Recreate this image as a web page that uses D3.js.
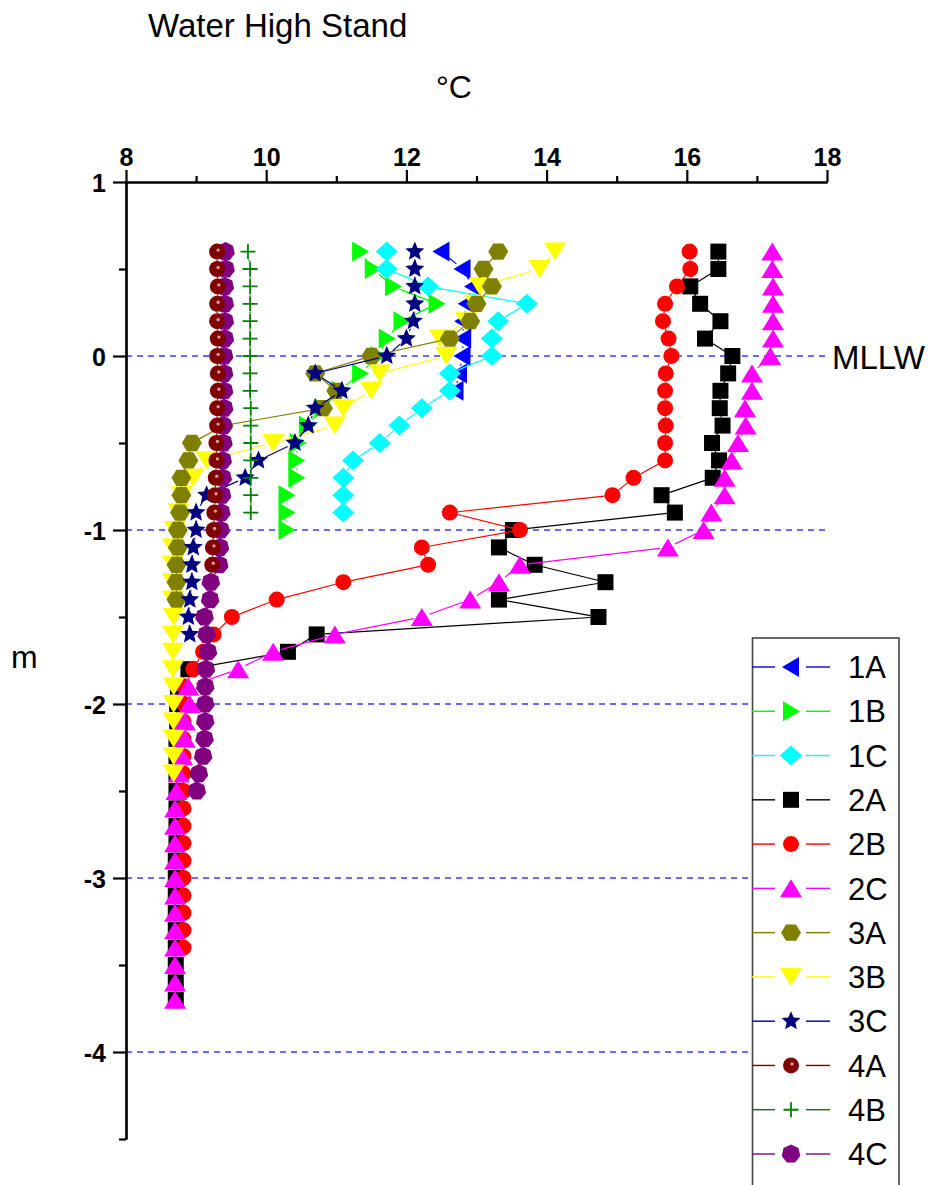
<!DOCTYPE html>
<html>
<head>
<meta charset="utf-8">
<script src="https://cdn.jsdelivr.net/npm/d3@7"></script>
<style>
  body { margin: 0; background: #fff; }
  svg { display: block; font-family: "Liberation Sans", Arial, sans-serif; }
</style>
</head>
<body>
<div id="chart"></div>
<script>
// depth (m) of each sample, top to bottom
const depths = [0.6, 0.5, 0.4, 0.3, 0.2, 0.1, 0, -0.1, -0.2, -0.3, -0.4, -0.5, -0.6, -0.7, -0.8, -0.9,
  -1, -1.1, -1.2, -1.3, -1.4, -1.5, -1.6, -1.7, -1.8, -1.9, -2, -2.1, -2.2, -2.3, -2.4, -2.5,
  -2.6, -2.7, -2.8, -2.9, -3, -3.1, -3.2, -3.3, -3.4, -3.5, -3.6, -3.7];

// temperatures (°C), one per depth starting at 0.6 m
const t1A = [12.5, 12.8, 12.95, 12.86, 12.81, 12.81, 12.8, 12.75, 12.7];
const t1B = [11.34, 11.52, 11.81, 12.43, 11.93, 11.72, 11.6, 11.34, 11.05, 10.8, 10.58, 10.45, 10.43, 10.43, 10.29, 10.29, 10.29];
const t1C = [11.72, 11.72, 12.31, 13.72, 13.31, 13.22, 13.22, 12.62, 12.62, 12.22, 11.9, 11.62, 11.24, 11.1, 11.1, 11.1];
const t2A = [16.45, 16.45, 16.05, 16.19, 16.48, 16.26, 16.65, 16.59, 16.48, 16.47, 16.51, 16.36, 16.46, 16.37, 15.64, 15.83,
  13.52, 13.32, 13.83, 14.84, 13.32, 14.74, 10.72, 10.31, 8.89, 8.74, 8.73, 8.73, 8.72, 8.72, 8.72, 8.72,
  8.72, 8.72, 8.72, 8.71, 8.71, 8.71, 8.71, 8.71, 8.71, 8.71, 8.71, 8.71];
const t2B = [16.04, 16.05, 15.86, 15.69, 15.66, 15.74, 15.78, 15.7, 15.69, 15.69, 15.7, 15.69, 15.69, 15.24, 14.94, 12.62,
  13.62, 12.22, 12.31, 11.1, 10.15, 9.51, 9.25, 9.1, 8.96, 8.83, 8.83, 8.82, 8.82, 8.82, 8.82, 8.82,
  8.82, 8.82, 8.82, 8.82, 8.82, 8.82, 8.82, 8.82, 8.82];
const t2C = [17.22, 17.22, 17.23, 17.23, 17.23, 17.23, 17.19, 16.93, 16.93, 16.83, 16.84, 16.73, 16.64, 16.54, 16.54, 16.35,
  16.24, 15.73, 13.62, 13.32, 12.91, 12.22, 10.98, 10.1, 9.6, 8.89, 8.91, 8.84, 8.84, 8.8, 8.75, 8.72,
  8.7, 8.7, 8.7, 8.7, 8.7, 8.7, 8.7, 8.7, 8.7, 8.7, 8.7, 8.7];
const t3A = [13.31, 13.1, 13.22, 13.0, 12.91, 12.62, 11.5, 10.7, 11.0, 10.81, 9.39, 8.94, 8.89, 8.79, 8.79, 8.77,
  8.74, 8.74, 8.72, 8.72, 8.72];
const t3B = [14.12, 13.9, 13.05, 12.98, 12.85, 12.48, 12.57, 11.62, 11.5, 11.1, 10.98, 10.1, 9.15, 8.96, 8.8, 8.75,
  8.7, 8.67, 8.67, 8.67, 8.67, 8.68, 8.67, 8.67, 8.67, 8.68, 8.68, 8.68, 8.68, 8.68, 8.68];
const t3C = [12.12, 12.12, 12.12, 12.12, 12.1, 12.0, 11.72, 10.7, 11.08, 10.7, 10.6, 10.41, 9.89, 9.7, 9.15, 9.0,
  9.0, 8.96, 8.94, 8.94, 8.91, 8.89, 8.91];
const t4A = [9.3, 9.3, 9.31, 9.3, 9.3, 9.31, 9.3, 9.31, 9.31, 9.3, 9.3, 9.29, 9.29, 9.28, 9.27, 9.26,
  9.25, 9.24, 9.23];
const t4B = [9.74, 9.77, 9.77, 9.77, 9.77, 9.77, 9.77, 9.77, 9.77, 9.78, 9.78, 9.78, 9.78, 9.78, 9.78, 9.78];
const t4C = [9.42, 9.42, 9.41, 9.41, 9.41, 9.41, 9.4, 9.4, 9.4, 9.4, 9.39, 9.39, 9.38, 9.38, 9.37, 9.36,
  9.35, 9.34, 9.33, 9.21, 9.2, 9.12, 9.15, 9.17, 9.14, 9.13, 9.13, 9.13, 9.12, 9.1, 9.04, 9.01];

const names = ["1A", "1B", "1C", "2A", "2B", "2C", "3A", "3B", "3C", "4A", "4B", "4C"];
const values = [t1A, t1B, t1C, t2A, t2B, t2C, t3A, t3B, t3C, t4A, t4B, t4C];
const colors = ["#0000ff", "#00ff00", "#00ffff", "#000000", "#ff0000", "#ff00ff",
  "#808000", "#ffff00", "#000080", "#800000", "#008000", "#800080"];
const shapes = ["triLeft", "triRight", "diamond", "square", "circle", "triUp",
  "hexagon", "triDown", "star", "ball", "plus", "heptagon"];
// order the plots were stacked in
const drawOrder = ["1A", "1B", "1C", "2A", "2B", "2C", "3B", "3A", "3C", "4C", "4B", "4A"];

const xTicks = [8, 10, 12, 14, 16, 18];
const xMinor = [9, 11, 13, 15, 17];
const yTicks = [1, 0, -1, -2, -3, -4];
const yMinor = [0.5, -0.5, -1.5, -2.5, -3.5, -4.5];
const gridLines = [0, -1, -2, -3, -4];

const W = 937, H = 1185;
const svg = d3.select("#chart").append("svg").attr("width", W).attr("height", H);

const x = d3.scaleLinear().domain([8, 18]).range([126, 827]);
const y = d3.scaleLinear().domain([1, -4.5]).range([182, 1139]);

// dashed reference lines
svg.append("g").selectAll("line").data(gridLines).join("line")
  .attr("x1", x(8)).attr("x2", x(18))
  .attr("y1", d => y(d)).attr("y2", d => y(d))
  .attr("stroke", "#3a3aff").attr("stroke-width", 1.6)
  .attr("stroke-dasharray", "6,5");

// axes
svg.append("g").attr("transform", `translate(0,${y(1)})`)
  .call(d3.axisTop(x).tickValues(xTicks).tickSize(12).tickSizeOuter(0).tickPadding(4));
svg.append("g").attr("transform", `translate(0,${y(1)})`)
  .call(d3.axisTop(x).tickValues(xMinor).tickSize(6).tickSizeOuter(0).tickFormat(""));
const yAxis = svg.append("g").attr("transform", `translate(${x(8)},0)`)
  .call(d3.axisLeft(y).tickValues(yTicks).tickSize(13).tickSizeOuter(0).tickPadding(7)
    .tickFormat(d => String(d)));
svg.append("g").attr("transform", `translate(${x(8)},0)`)
  .call(d3.axisLeft(y).tickValues(yMinor).tickSize(7).tickSizeOuter(0).tickFormat(""));

svg.selectAll(".domain, .tick line").attr("stroke", "#000").attr("stroke-width", 2.2);
svg.selectAll(".tick text").attr("fill", "#000").style("font-size", "25px").style("font-weight", "bold")
  .style("font-family", "'Liberation Sans', Arial, sans-serif");
yAxis.selectAll(".tick text").attr("dy", "0.36em");

// titles
svg.append("text").attr("x", 148).attr("y", 37).style("font-size", "33px").text("Water High Stand");
svg.append("text").attr("x", 436).attr("y", 98).style("font-size", "32px").text("°C");
svg.append("text").attr("x", 11).attr("y", 668).style("font-size", "32px").text("m");
svg.append("text").attr("x", 832).attr("y", y(0) + 1).attr("dy", "0.36em").style("font-size", "33px").text("MLLW");

// marker shapes
const shapePath = {
  triLeft: "M-9,0L8,-10L8,10Z",
  triRight: "M9,0L-8,-10L-8,10Z",
  triUp: "M0,-9L11,9L-11,9Z",
  triDown: "M0,9L11,-9L-11,-9Z",
  diamond: "M0,-10L11,0L0,10L-11,0Z",
  square: "M-8,-8H8V8H-8Z",
  hexagon: d3.range(6).map(i => {
    const a = i * Math.PI / 3;
    return (i ? "L" : "M") + (10 * Math.cos(a)).toFixed(2) + "," + (9.4 * Math.sin(a)).toFixed(2);
  }).join("") + "Z",
  heptagon: d3.range(7).map(i => {
    const a = -Math.PI / 2 + i * 2 * Math.PI / 7;
    return (i ? "L" : "M") + (9.5 * Math.cos(a)).toFixed(2) + "," + (9.5 * Math.sin(a)).toFixed(2);
  }).join("") + "Z",
  star: d3.range(10).map(i => {
    const a = -Math.PI / 2 + i * Math.PI / 5;
    const r = i % 2 ? 4.6 : 10;
    return (i ? "L" : "M") + (r * Math.cos(a)).toFixed(2) + "," + (r * Math.sin(a)).toFixed(2);
  }).join("") + "Z"
};

function drawMarker(g, shape, color) {
  if (shape === "circle" || shape === "ball") {
    g.append("circle").attr("r", 8).attr("fill", color);
    if (shape === "ball") g.append("circle").attr("r", 1.7).attr("cx", 1).attr("cy", -1.5).attr("fill", "#d89a9a");
  } else if (shape === "plus") {
    g.append("path").attr("d", "M-7.5,0H7.5M0,-7.5V7.5").attr("stroke", color).attr("stroke-width", 1.8).attr("fill", "none");
  } else {
    g.append("path").attr("d", shapePath[shape]).attr("fill", color);
  }
}

// line segments stop short of the symbols
function gapSegments(pts, gap) {
  const segs = [];
  for (let i = 1; i < pts.length; i++) {
    const [x1, y1] = pts[i - 1], [x2, y2] = pts[i];
    const len = Math.hypot(x2 - x1, y2 - y1);
    if (len <= 2 * gap) continue;
    const ux = (x2 - x1) / len, uy = (y2 - y1) / len;
    segs.push([x1 + ux * gap, y1 + uy * gap, x2 - ux * gap, y2 - uy * gap]);
  }
  return segs;
}

const plot = svg.append("g");
drawOrder.forEach(name => {
  const k = names.indexOf(name);
  const pts = values[k].map((v, i) => [x(v), y(depths[i])]);
  const g = plot.append("g");
  g.selectAll("line").data(gapSegments(pts, 8)).join("line")
    .attr("x1", d => d[0]).attr("y1", d => d[1]).attr("x2", d => d[2]).attr("y2", d => d[3])
    .attr("stroke", colors[k]).attr("stroke-width", 1.2);
  g.selectAll("g").data(pts).join("g")
    .attr("transform", d => `translate(${d[0]},${d[1]})`)
    .each(function () { drawMarker(d3.select(this), shapes[k], colors[k]); });
});

// legend
const ly = d3.scalePoint().domain(names).range([667, 1154]);
const legend = svg.append("g");
legend.append("rect").attr("x", 752.5).attr("y", 638).attr("width", 146.5).attr("height", 600)
  .attr("fill", "#fff").attr("stroke", "#444").attr("stroke-width", 1.6);
names.forEach((name, k) => {
  const row = legend.append("g").attr("transform", `translate(0,${ly(name)})`);
  row.append("line").attr("x1", 752).attr("x2", 775).attr("stroke", colors[k]).attr("stroke-width", 1.4);
  row.append("line").attr("x1", 806).attr("x2", 830).attr("stroke", colors[k]).attr("stroke-width", 1.4);
  drawMarker(row.append("g").attr("transform", "translate(791,0)"), shapes[k], colors[k]);
  row.append("text").attr("x", 848).attr("dy", "0.36em").style("font-size", "31px").text(name);
});
</script>
</body>
</html>
